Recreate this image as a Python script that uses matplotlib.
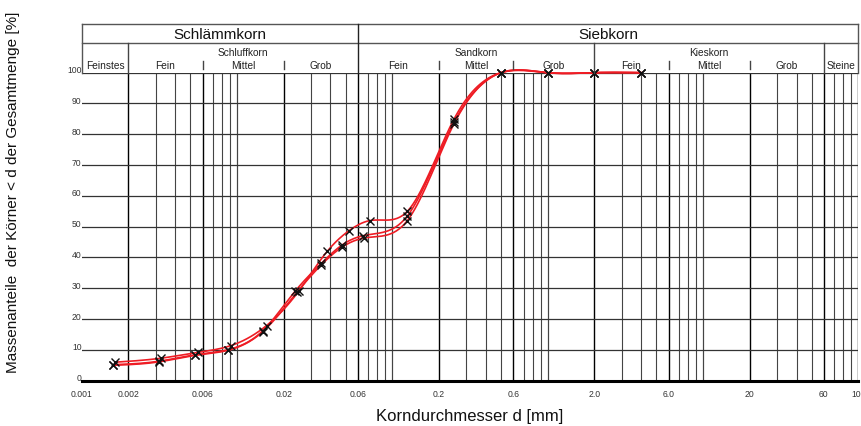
import numpy as np
import matplotlib
matplotlib.use("Agg")
import matplotlib.pyplot as plt
import matplotlib.transforms as mtransforms

plt.rcParams['font.family'] = ['Liberation Sans', 'DejaVu Sans']

# --- data ---
sizes_a = [0.00164, 0.00324, 0.00561, 0.00915, 0.0155, 0.025, 0.0381, 0.0523, 0.072, 0.125, 0.25, 0.5, 1.0, 2.0, 4.0]
pass_a = [6.0, 7.3, 9.2, 11.4, 17.9, 29.1, 42.0, 48.6, 52.0, 55.0, 85.0, 100, 100, 100, 100]

sizes_b = [0.00159, 0.00313, 0.00537, 0.0088, 0.01465, 0.0238, 0.0349, 0.0476, 0.0651, 0.125, 0.25, 0.5, 1.0, 2.0, 4.0]
pass_b = [5.2, 6.3, 8.4, 10.1, 16.2, 29.2, 38.1, 44.1, 47.1, 53.5, 84.0, 100, 100, 100, 100]

sizes_c = [0.00159, 0.00313, 0.00537, 0.0088, 0.01465, 0.0245, 0.0349, 0.0476, 0.0655, 0.125, 0.25, 0.5, 1.0, 2.0, 4.0]
pass_c = [5.0, 6.1, 8.2, 9.9, 15.9, 28.9, 37.6, 43.4, 46.3, 52.0, 83.5, 100, 100, 100, 100]

# soil classes (DIN 4022 style header)
main_classes = [("Schlämmkorn", 0.001, 0.06), ("Siebkorn", 0.06, 100)]
groups = [("Schluffkorn", 0.002, 0.06), ("Sandkorn", 0.06, 2.0), ("Kieskorn", 2.0, 60)]
sub_classes = [("Feinstes", 0.001, 0.002),
               ("Fein", 0.002, 0.006), ("Mittel", 0.006, 0.02), ("Grob", 0.02, 0.06),
               ("Fein", 0.06, 0.2), ("Mittel", 0.2, 0.6), ("Grob", 0.6, 2.0),
               ("Fein", 2.0, 6.0), ("Mittel", 6.0, 20), ("Grob", 20, 60),
               ("Steine", 60, 100)]
group_edges = [0.002, 2.0, 60]       # full-height lines in the sub band
short_ticks = [0.006, 0.02, 0.2, 0.6, 6.0, 20]

xtick_vals = [0.001, 0.002, 0.006, 0.02, 0.06, 0.2, 0.6, 2.0, 6.0, 20, 60, 100]
xtick_labels = ["0.001", "0.002", "0.006", "0.02", "0.06", "0.2", "0.6", "2.0", "6.0", "20", "60", "100"]
yticks = list(range(0, 101, 10))


def natural_spline(x, y, xs):
    """Natural cubic spline through (x, y), evaluated at xs"""
    x = np.asarray(x, float)
    y = np.asarray(y, float)
    n = len(x)
    h = np.diff(x)
    A = np.zeros((n, n))
    r = np.zeros(n)
    A[0, 0] = A[-1, -1] = 1
    for i in range(1, n - 1):
        A[i, i - 1] = h[i - 1]
        A[i, i] = 2 * (h[i - 1] + h[i])
        A[i, i + 1] = h[i]
        r[i] = 6 * ((y[i + 1] - y[i]) / h[i] - (y[i] - y[i - 1]) / h[i - 1])
    m = np.linalg.solve(A, r)
    idx = np.clip(np.searchsorted(x, xs) - 1, 0, n - 2)
    x0, x1 = x[idx], x[idx + 1]
    hh = x1 - x0
    t0, t1 = x1 - xs, xs - x0
    return (m[idx] * t0 ** 3 / (6 * hh) + m[idx + 1] * t1 ** 3 / (6 * hh)
            + (y[idx] / hh - m[idx] * hh / 6) * t0
            + (y[idx + 1] / hh - m[idx + 1] * hh / 6) * t1)


fig = plt.figure(figsize=(8.61, 4.27), dpi=100)
ax = fig.add_axes([0.0948, 0.1061, 0.9021, 0.7213])
ax.set_xscale('log')
ax.set_xlim(0.001, 100)
ax.set_ylim(0, 100)
for s in ax.spines.values():
    s.set_visible(False)

# grid
for k in range(-3, 2):
    for n in range(1, 11):
        v = n * 10.0 ** k
        if v <= 0.001 or v > 100:
            continue
        strong = any(abs(v - b) / b < 1e-6 for b in xtick_vals)
        ax.axvline(v, color='black' if strong else '#444444',
                   lw=1.0 if strong else 0.8, zorder=1)
for yv in yticks[1:]:
    ax.axhline(yv, color='#333333', lw=0.9, zorder=1)
ax.axhline(0, color='black', lw=2.2, zorder=2, clip_on=False)

# curves
for sz, pc in [(sizes_a, pass_a), (sizes_b, pass_b), (sizes_c, pass_c)]:
    lx = np.log10(sz)
    xs = np.linspace(lx[0], lx[-1], 400)
    ax.plot(10 ** xs, natural_spline(lx, pc, xs), color='#ee1c24', lw=1.2,
            zorder=3, clip_on=False)
    ax.plot(sz, pc, ls='none', marker='x', ms=6, mew=1.0, color='#111111',
            zorder=4, clip_on=False)

# ticks
ax.set_xticks(xtick_vals)
ax.set_xticklabels(xtick_labels)
ax.xaxis.set_minor_locator(matplotlib.ticker.NullLocator())
ax.set_yticks(yticks)
ax.tick_params(axis='both', length=0, labelsize=6.2, labelcolor='#333333')
ax.tick_params(axis='x', pad=6)
ax.tick_params(axis='y', pad=0)
up = mtransforms.ScaledTranslation(0, 0.04, fig.dpi_scale_trans)
for lab in ax.get_yticklabels():
    lab.set_transform(lab.get_transform() + up)

# header (y in data units above 100)
top, mid, tick_top, tick_bot = 115.8, 109.6, 103.9, 101.2
hc = '#555555'
kw = dict(clip_on=False, zorder=5)
ax.plot([0.001, 100], [top, top], color=hc, lw=1.0, **kw)
ax.plot([0.001, 100], [mid, mid], color=hc, lw=1.0, **kw)
ax.plot([0.001, 0.001], [100, top], color=hc, lw=1.0, **kw)
ax.plot([100, 100], [100, top], color=hc, lw=1.0, **kw)
ax.plot([0.06, 0.06], [100, top], color='#222222', lw=1.0, **kw)
for g in group_edges:
    ax.plot([g, g], [100, mid], color='#444444', lw=1.0, **kw)
for t in short_ticks:
    ax.plot([t, t], [tick_bot, tick_top], color='#444444', lw=1.0, **kw)

for name, lo, hi in main_classes:
    ax.text(np.sqrt(lo * hi), (top + mid) / 2, name, ha='center', va='center',
            fontsize=11, color='#111111', clip_on=False)
for name, lo, hi in groups:
    ax.text(np.sqrt(lo * hi), 106.7, name, ha='center', va='center',
            fontsize=7.3, color='#222222', clip_on=False)
for name, lo, hi in sub_classes:
    ax.text(np.sqrt(lo * hi), 102.5, name, ha='center', va='center',
            fontsize=7.3, color='#222222', clip_on=False)

ax.set_xlabel("Korndurchmesser d [mm]", fontsize=12, labelpad=7, color='#111111')
fig.text(0.015, 0.55, "Massenanteile  der Körner < d der Gesamtmenge [%]",
         rotation=90, ha='center', va='center', fontsize=11, color='#111111')

fig.savefig("out.png", dpi=100)
